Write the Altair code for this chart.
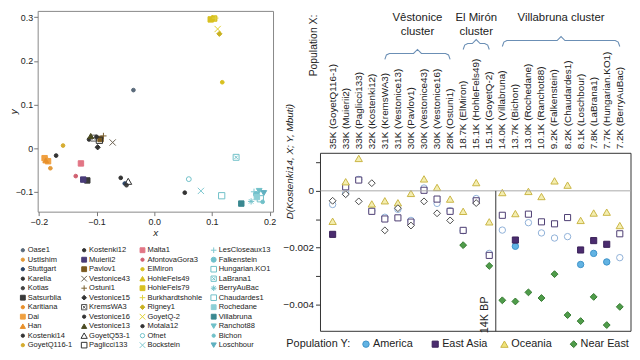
import altair as alt
import pandas as pd

FONT = "Liberation Sans"
TXT = "#222222"

# ---------------- Left panel: scatter of samples ----------------
LEGEND_NAMES = [
    "Oase1", "UstIshim", "Stuttgart", "Karelia", "Kotias", "Satsurblia",
    "Karitiana", "Dai", "Han", "Kostenki14", "GoyetQ116-1",
    "Kostenki12", "Muierii2", "Pavlov1", "Vestonice43", "Ostuni1",
    "Vestonice15", "KremsWA3", "Vestonice16", "Vestonice13", "GoyetQ53-1",
    "Paglicci133",
    "Malta1", "AfontovaGora3", "ElMiron", "HohleFels49", "HohleFels79",
    "Burkhardtshohle", "Rigney1", "GoyetQ-2", "Motala12", "Ofnet", "Bockstein",
    "LesCloseaux13", "Falkenstein", "Hungarian.KO1", "LaBrana1", "BerryAuBac",
    "Chaudardes1", "Rochedane", "Villabruna", "Ranchot88", "Bichon", "Loschbour",
]

PT_NAME = ["Oase1", "UstIshim", "Stuttgart", "Karelia", "Kotias", "Satsurblia",
           "Karitiana", "Dai", "Dai", "Han", "Kostenki14", "GoyetQ116-1",
           "Kostenki12", "Muierii2", "Pavlov1", "Vestonice43", "Ostuni1",
           "Vestonice15", "KremsWA3", "Vestonice16", "Vestonice13", "GoyetQ53-1",
           "Paglicci133", "Malta1", "AfontovaGora3", "ElMiron", "HohleFels49",
           "HohleFels79", "HohleFels79", "Burkhardtshohle", "Rigney1", "GoyetQ-2",
           "Motala12", "Ofnet", "Bockstein", "LesCloseaux13", "Falkenstein",
           "Hungarian.KO1", "LaBrana1", "BerryAuBac", "Chaudardes1", "Rochedane",
           "Villabruna", "Ranchot88", "Bichon", "Loschbour"]
PT_X = [-0.036, -0.180, -0.051, -0.058, -0.048, -0.116,
        -0.186, -0.190, -0.184, -0.188, -0.170, -0.158,
        -0.113, -0.123, -0.093, -0.072, -0.088,
        -0.098, -0.105, -0.100, -0.110, -0.045,
        -0.095, -0.127, -0.136, 0.118, 0.101,
        0.098, 0.104, 0.106, 0.113, 0.110,
        0.053, 0.060, 0.081, 0.173, 0.177,
        0.117, 0.142, 0.168, 0.184, 0.178,
        0.151, 0.182, 0.188, 0.190]
PT_Y = [0.133, -0.046, -0.081, -0.068, -0.085, -0.074,
        -0.026, -0.023, -0.030, -0.028, -0.017, 0.006,
        0.020, -0.072, 0.021, 0.013, 0.028,
        0.002, 0.023, 0.026, 0.028, -0.076,
        0.018, -0.035, -0.064, 0.151, 0.299,
        0.295, 0.297, 0.298, 0.262, 0.273,
        -0.102, -0.071, -0.098, -0.100, -0.106,
        -0.109, -0.021, -0.122, -0.116, -0.112,
        -0.127, -0.098, -0.123, -0.103]

# marker style of each sample: (marker kind, colour)
STYLE = {
    "Oase1": ("dot", "#5a6a7a"), "UstIshim": ("dot", "#e39a3a"),
    "Stuttgart": ("dot", "#2c4466"), "Karelia": ("dot", "#333333"),
    "Kotias": ("dot", "#444444"), "Satsurblia": ("square", "#3a3a3a"),
    "Karitiana": ("dot", "#e8902c"), "Dai": ("square", "#f0a040"),
    "Han": ("triangle", "#e8902a"), "Kostenki14": ("dot", "#333333"),
    "GoyetQ116-1": ("dot", "#d6ac30"),
    "Kostenki12": ("dot", "#333333"), "Muierii2": ("square", "#4a3c78"),
    "Pavlov1": ("square", "#7a5a20"), "Vestonice43": ("x", "#6a6050"),
    "Ostuni1": ("plus", "#7a6030"), "Vestonice15": ("diamond", "#333333"),
    "KremsWA3": ("boxsq", "#555555"), "Vestonice16": ("dot", "#333333"),
    "Vestonice13": ("triangle", "#4a4a20"), "GoyetQ53-1": ("otriangle", "#333333"),
    "Paglicci133": ("osquare", "#333333"),
    "Malta1": ("square", "#e27585"), "AfontovaGora3": ("dot", "#d06070"),
    "ElMiron": ("dot", "#d8c020"), "HohleFels49": ("triangle", "#d8c020"),
    "HohleFels79": ("square", "#d8c020"), "Burkhardtshohle": ("plus", "#e0d040"),
    "Rigney1": ("diamond", "#c8b020"), "GoyetQ-2": ("x", "#e0d030"),
    "Motala12": ("dot", "#333333"), "Ofnet": ("ocircle", "#70c0c8"),
    "Bockstein": ("x", "#80c8d0"),
    "LesCloseaux13": ("plus", "#80c8d0"), "Falkenstein": ("blob", "#70c0cc"),
    "Hungarian.KO1": ("osquare", "#70c0c8"), "LaBrana1": ("boxsq", "#70c0c8"),
    "BerryAuBac": ("asterisk", "#70c0c8"), "Chaudardes1": ("osquare", "#70c0c8"),
    "Rochedane": ("square", "#8ccfd6"), "Villabruna": ("square", "#3a8890"),
    "Ranchot88": ("tridown", "#70c0c8"), "Bichon": ("dot", "#70c0c8"),
    "Loschbour": ("tridown", "#5fb0c0"),
}
KIND = {
    "dot": ("circle", True, 14),
    "square": ("square", True, 30),
    "triangle": ("triangle-up", True, 34),
    "diamond": ("diamond", True, 28),
    "tridown": ("triangle-down", True, 34),
    "blob": ("circle", True, 32),
    "x": ("M-1,-1L1,1M-1,1L1,-1", False, 40),
    "plus": ("M-1,0L1,0M0,-1L0,1", False, 40),
    "asterisk": ("M-1,0L1,0M0,-1L0,1M-0.7,-0.7L0.7,0.7M-0.7,0.7L0.7,-0.7", False, 40),
    "otriangle": ("triangle-up", False, 50),
    "osquare": ("square", False, 40),
    "ocircle": ("circle", False, 24),
    "boxsq": ("M-1,-1L1,-1L1,1L-1,1Z M-0.55,-0.55L0.55,0.55M-0.55,0.55L0.55,-0.55", False, 36),
}


def style_cols(name, scale=1.0):
    kind, col = STYLE[name]
    shp, filled, size = KIND[kind]
    return shp, (col if filled else "transparent"), size * scale, col


sc_rows = []
for n, x, y in zip(PT_NAME, PT_X, PT_Y):
    shp, fillc, size, col = style_cols(n)
    sc_rows.append(dict(name=n, x=x, y=y, shape=shp, fillc=fillc, size=size, color=col))
sc_df = pd.DataFrame(sc_rows)

SC_W, SC_H = 238, 203

x_enc = alt.X("x:Q", scale=alt.Scale(domain=[-0.202, 0.206], nice=False, zero=False),
              axis=alt.Axis(values=[-0.2, -0.1, 0, 0.1, 0.2], format=".1f", title="x",
                            titleFontStyle="italic", titleFontWeight="normal", titleFontSize=10,
                            titleColor=TXT, labelFontSize=9, labelColor=TXT, tickSize=4,
                            tickColor="#777777", domain=False, grid=False, labelPadding=2,
                            titlePadding=1))
y_enc = alt.Y("y:Q", scale=alt.Scale(domain=[-0.1455, 0.3145], nice=False, zero=False),
              axis=alt.Axis(values=[-0.1, 0, 0.1, 0.2, 0.3],
                            labelExpr="datum.value == 0 ? '0' : format(datum.value, '.1f')",
                            title="y", titleFontStyle="italic", titleFontWeight="normal",
                            titleFontSize=10, titleColor=TXT, titleX=-24, titleBaseline="middle",
                            labelFontSize=9, labelColor=TXT, tickSize=4, tickColor="#777777",
                            domain=False, grid=False, labelPadding=1))

sc_pts = alt.Chart(sc_df).mark_point(filled=True, opacity=1, strokeWidth=1).encode(
    x=x_enc, y=y_enc,
    shape=alt.Shape("shape:N", scale=None),
    fill=alt.Fill("fillc:N", scale=None),
    stroke=alt.Stroke("color:N", scale=None),
    size=alt.Size("size:Q", scale=None))

# legend grid under the scatter (4 columns x 11 rows)
lg_rows = []
for i, n in enumerate(LEGEND_NAMES):
    shp, fillc, size, col = style_cols(n, 0.8)
    lg_rows.append(dict(name=n, col=i // 11, row=i % 11, shape=shp, fillc=fillc,
                        size=size, color=col))
lg_df = pd.DataFrame(lg_rows)
LG_XS = alt.Scale(domain=[0, 1, 2, 3], range=[-15, 47, 106, 178])
LG_YS = alt.Scale(domain=[0, 10], range=[242, 338])
lg_pts = alt.Chart(lg_df).mark_point(filled=True, opacity=1, strokeWidth=1).encode(
    x=alt.X("col:Q", scale=LG_XS, axis=None), y=alt.Y("row:Q", scale=LG_YS, axis=None),
    shape=alt.Shape("shape:N", scale=None), fill=alt.Fill("fillc:N", scale=None),
    stroke=alt.Stroke("color:N", scale=None), size=alt.Size("size:Q", scale=None))
lg_txt = alt.Chart(lg_df).mark_text(align="left", baseline="middle", dx=5, fontSize=7.6,
                                    color=TXT).encode(
    x=alt.X("col:Q", scale=LG_XS, axis=None), y=alt.Y("row:Q", scale=LG_YS, axis=None),
    text="name:N")

left = alt.layer(sc_pts, lg_pts, lg_txt).resolve_scale(x="independent", y="independent").properties(
    width=SC_W, height=SC_H, view=alt.ViewBackground(stroke="#888888", strokeWidth=1))

# ---------------- Right panel: D-statistics ----------------
LABELS_X = ["35K (GoyetQ116-1)", "33K (Muierii2)", "33K (Paglicci133)", "32K (Kostenki12)",
            "31K (KremsWA3)", "31K (Vestonice13)", "30K (Pavlov1)", "30K (Vestonice43)",
            "30K (Vestonice16)", "28K (Ostuni1)", "18.7K (ElMiron)", "15.1K (HohleFels49)",
            "15.1K (GoyetQ-2)", "14.0K (Villabruna)", "13.7K (Bichon)", "13.0K (Rochedane)",
            "10.1K (Ranchot88)", "9.2K (Falkenstein)", "8.2K (Chaudardes1)", "8.1K (Loschbour)",
            "7.8K (LaBrana1)", "7.7K (Hungarian.KO1)", "7.2K (BerryAuBac)"]

D_AMERICA = [-0.00048, -0.00008, 0.00040, -0.00070, -0.00093, -0.00065, -0.00104, 0.00010,
             -0.00044, -0.00070, -0.00140, -0.00027, -0.00220, -0.00138, -0.00195, -0.00112,
             -0.00148, -0.00166, -0.00161, -0.00259, -0.00220, -0.00250, -0.00235]
SIG_AMERICA = [0, 0, 0, 0, 0, 0, 0, 0, 0, 0, 0, 0, 0, 0, 1, 0, 0, 0, 0, 1, 1, 1, 0]
D_EASTASIA = [-0.00153, 0.00014, 0.00038, -0.00072, -0.00099, -0.00095, -0.00110, 0.00002,
              -0.00029, -0.00072, -0.00139, -0.00035, -0.00227, -0.00086, -0.00173, -0.00082,
              -0.00109, -0.00116, -0.00094, -0.00208, -0.00175, -0.00188, -0.00151]
SIG_EASTASIA = [1, 0, 0, 0, 0, 0, 0, 0, 0, 0, 0, 0, 0, 0, 1, 0, 0, 0, 0, 1, 1, 1, 0]
D_OCEANIA = [-0.00107, 0.00032, 0.00114, -0.00046, -0.00035, -0.00042, -0.00009, 0.00042,
             0.00012, -0.00029, -0.00072, 0.00029, -0.00109, -0.00006, -0.00080, -0.00002,
             -0.00020, 0.00035, 0.00020, -0.00104, -0.00078, -0.00075, -0.00122]
SIG_OCEANIA = [0] * 23
D_NEAREAST = [-0.00035, -0.00012, -0.00037, 0.00027, -0.00139, -0.00061, -0.00122, -0.00037,
              -0.00079, -0.00104, -0.00191, -0.00043, -0.00264, -0.00385, -0.00389, -0.00357,
              -0.00377, -0.00293, -0.00437, -0.00458, -0.00373, -0.00472, -0.00408]
SIG_NEAREAST = [0, 0, 0, 0, 0, 0, 0, 0, 0, 0, 1, 0, 1, 1, 1, 1, 1, 1, 1, 1, 1, 1, 1]

POPS = ["America", "East Asia", "Oceania", "Near East"]
POP_VALUES = [D_AMERICA, D_EASTASIA, D_OCEANIA, D_NEAREAST]
POP_SIG = [SIG_AMERICA, SIG_EASTASIA, SIG_OCEANIA, SIG_NEAREAST]
# (shape, size, filled fill, filled stroke, open fill, open stroke)
POP_STYLE = {
    "America": ("circle", 42, "#62b3e3", "#3f93c8", "#ffffff", "#8fb0d8"),
    "East Asia": ("square", 38, "#4b2c6f", "#3a2058", "#ffffff", "#4d3d72"),
    "Oceania": ("triangle-up", 55, "#f4eeb0", "#c9b545", "#f4eeb0", "#c9b545"),
    "Near East": ("diamond", 48, "#4f9c4a", "#367a32", "#ffffff", "#4a4a4a"),
}

CL_TITLES = ["Vêstonice\ncluster", "El Mirón\ncluster", "Villabruna cluster"]
CL_START = [4, 10, 13]
CL_END = [9, 12, 22]
BRACKET_Y = [43, 33, 30]

D_XDOM = [-0.93, 22.86]
D_YDOM = [-0.00494, 0.00132]
BREAK_AT = 12.5

R_W = 314          # plot width
HDR_H = 144        # header band above the plot
PLOT_H = 180       # plot height
R_H = HDR_H + PLOT_H

pt_rows = []
for p, vals, sig in zip(POPS, POP_VALUES, POP_SIG):
    shp, size, ff, fs, of, os_ = POP_STYLE[p]
    for i, (v, s) in enumerate(zip(vals, sig)):
        pt_rows.append(dict(pop=p, idx=i, d=v, shape=shp, size=size,
                            fill=ff if s else of, stroke=fs if s else os_))
pt_df = pd.DataFrame(pt_rows)


def dxs():
    return alt.Scale(domain=D_XDOM, nice=False, zero=False)


def dys():
    return alt.Scale(domain=D_YDOM, nice=False, zero=False, range=[R_H, HDR_H])


dy_axis = alt.Axis(values=[0.001, 0, -0.001, -0.002, -0.003, -0.004],
                   labelExpr="abs(datum.value) < 1e-9 ? '0' : (abs(round(datum.value*1000)) % 2 == 0 ? format(datum.value, '.3f') : '')",
                   labelFontSize=10, labelColor=TXT, tickSize=5, tickColor="#333333",
                   labelPadding=2, domain=False, grid=False,
                   title="D(Kostenki14, X; Y, Mbuti)", titleFontStyle="italic",
                   titleFontWeight="normal", titleFontSize=10, titleColor=TXT,
                   titleX=-31.5, titleY=HDR_H + 8, titleBaseline="middle", titleAngle=270)

frame = alt.Chart(pd.DataFrame({"k": [0]})).mark_rect(
    fill="transparent", stroke="#333333", strokeWidth=1).encode(
    x=alt.value(0), x2=alt.value(R_W), y=alt.value(HDR_H), y2=alt.value(R_H))
ZERO_DF = pd.DataFrame({"d": [0.0]})
zero_rule = alt.Chart(ZERO_DF).mark_rule(color="#aaaaaa", strokeWidth=1).encode(
    y=alt.Y("d:Q", scale=dys(), axis=None))
VL_DF = pd.DataFrame({"idx": [BREAK_AT], "d": [0.0], "d2": [D_YDOM[0]], "t": ["14K BP"]})
vline = alt.Chart(VL_DF).mark_rule(color="#333333", strokeWidth=1).encode(
    x=alt.X("idx:Q", scale=dxs(), axis=None), y=alt.Y("d:Q", scale=dys(), axis=None), y2="d2:Q")
vtext = alt.Chart(VL_DF).mark_text(
    angle=270, align="left", baseline="bottom", fontSize=11, color=TXT, dx=-2, dy=-6).encode(
    x=alt.X("idx:Q", scale=dxs(), axis=None), y=alt.Y("d2:Q", scale=dys(), axis=None), text="t:N")
pts = alt.Chart(pt_df).mark_point(filled=True, opacity=1, strokeWidth=1).encode(
    x=alt.X("idx:Q", scale=dxs(), axis=None),
    y=alt.Y("d:Q", scale=dys(), axis=dy_axis),
    shape=alt.Shape("shape:N", scale=None),
    fill=alt.Fill("fill:N", scale=None),
    stroke=alt.Stroke("stroke:N", scale=None),
    size=alt.Size("size:Q", scale=None))

# header: sample labels, brackets and cluster titles
lab_df = pd.DataFrame({"idx": list(range(len(LABELS_X))), "label": LABELS_X})
labels = alt.Chart(lab_df).mark_text(angle=270, align="left", baseline="middle", fontSize=10,
                                     color=TXT).encode(
    x=alt.X("idx:Q", scale=dxs(), axis=None), y=alt.value(HDR_H - 4), text="label:N")

br_rows = []
for k, (s, e) in enumerate(zip(CL_START, CL_END)):
    ly = BRACKET_Y[k]
    m = (s + e) / 2
    path = [(s, ly + 6), (s + 0.12, ly + 1.5), (s + 0.35, ly), (m - 0.3, ly), (m, ly - 4),
            (m + 0.3, ly), (e - 0.35, ly), (e - 0.12, ly + 1.5), (e, ly + 6)]
    for j, (bx, by) in enumerate(path):
        br_rows.append(dict(cl=k, ord=j, idx=bx, by=by))
br_df = pd.DataFrame(br_rows)
brackets = alt.Chart(br_df).mark_line(color="#6b8fb5", strokeWidth=1.1).encode(
    x=alt.X("idx:Q", scale=dxs(), axis=None),
    y=alt.Y("by:Q", scale=alt.Scale(domain=[0, HDR_H], range=[0, HDR_H]), axis=None),
    detail="cl:N", order="ord:Q")
cl_df = pd.DataFrame({"idx": [(s + e) / 2 for s, e in zip(CL_START, CL_END)], "t": CL_TITLES})
cl_text = alt.Chart(cl_df).mark_text(baseline="top", align="center", fontSize=11.5, lineBreak="\n",
                                     lineHeight=14, color=TXT).encode(
    x=alt.X("idx:Q", scale=dxs(), axis=None), y=alt.value(1), text="t:N")
popx = alt.Chart(pd.DataFrame({"t": ["Population X:"]})).mark_text(
    angle=270, align="center", baseline="middle", fontSize=10.5, color=TXT).encode(
    text="t:N", x=alt.value(-6.5), y=alt.value(35))

# bottom legend for Population Y
leg_rows = []
for p in POPS:
    shp, size, ff, fs, of, os_ = POP_STYLE[p]
    if p == "Oceania":
        ff = "#efe27a"
    leg_rows.append(dict(pop=p, shape=shp, size=size, fill=ff, stroke=fs))
leg_df = pd.DataFrame(leg_rows)
LEG_Y = R_H + 13


def lxs():
    return alt.Scale(domain=POPS, range=[46, 256], padding=0)


leg_sym = alt.Chart(leg_df).mark_point(filled=True, opacity=1, strokeWidth=1).encode(
    x=alt.X("pop:N", scale=lxs(), axis=None), y=alt.value(LEG_Y),
    shape=alt.Shape("shape:N", scale=None),
    fill=alt.Fill("fill:N", scale=None), stroke=alt.Stroke("stroke:N", scale=None),
    size=alt.Size("size:Q", scale=None))
leg_txt = alt.Chart(leg_df).mark_text(align="left", baseline="middle", dx=7, fontSize=11,
                                      color=TXT).encode(
    x=alt.X("pop:N", scale=lxs(), axis=None), y=alt.value(LEG_Y), text="pop:N")
leg_title = alt.Chart(pd.DataFrame({"t": ["Population Y:"]})).mark_text(
    align="right", baseline="middle", fontSize=11, color=TXT).encode(
    text="t:N", x=alt.value(30), y=alt.value(LEG_Y))

right = alt.layer(pts, frame, zero_rule, vline, vtext, labels, brackets, cl_text, popx,
                  leg_sym, leg_txt, leg_title).resolve_scale(
    x="independent", y="independent").properties(width=R_W, height=R_H)

chart = alt.hconcat(left, right, spacing=48, bounds="flush").properties(padding=0).configure(
    font=FONT).configure_view(stroke="transparent")

chart.save("out.html", embed_options={"renderer": "svg", "actions": False})
